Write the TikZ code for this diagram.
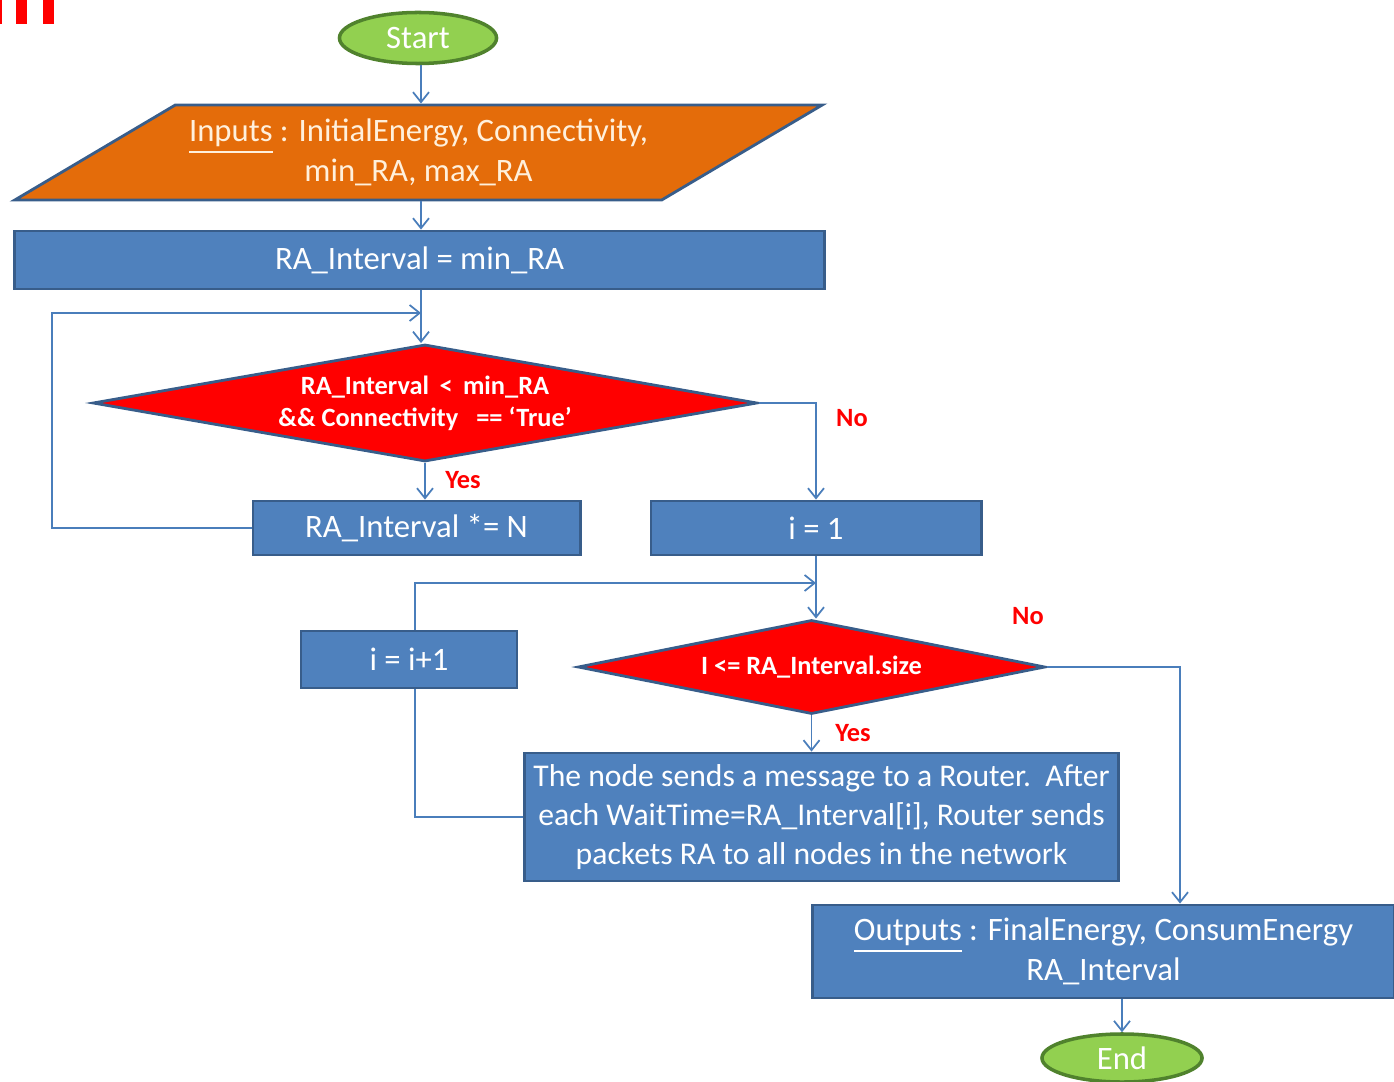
\documentclass[tikz,border=0pt]{standalone}
\usepackage{fontspec}
\setmainfont{Carlito}
\usepackage{xcolor}
\usetikzlibrary{arrows.meta, shapes.geometric, backgrounds}
\definecolor{boxblue}{RGB}{79,129,189}
\definecolor{edgeblue}{RGB}{56,93,138}
\definecolor{lineblue}{RGB}{74,126,187}
\definecolor{inorange}{RGB}{228,108,10}
\definecolor{startgreen}{RGB}{146,208,80}
\definecolor{rimgreen}{RGB}{80,130,45}
\definecolor{incream}{RGB}{255,240,220}

\begin{document}
\begin{tikzpicture}[x=0.01cm,y=-0.01cm,
    procbox/.style={draw=edgeblue,line width=0.8pt,fill=boxblue,text=white,inner sep=0pt,font=\fontsize{9.3}{11.4}\selectfont},
    decision/.style={diamond,draw=edgeblue,line width=0.8pt,fill=red,text=white,inner sep=0pt,align=center,font=\fontsize{7.5}{9}\selectfont\bfseries},
    terminal/.style={ellipse,draw=rimgreen,line width=1pt,fill=startgreen,text=white,inner sep=0pt,font=\fontsize{9.3}{11}\selectfont},
    flow/.style={draw=lineblue,line width=0.5pt,-{Straight Barb[length=1mm,width=1.6mm]}},
    answer/.style={text=red,font=\fontsize{7.5}{9}\selectfont\bfseries}]
\useasboundingbox (0,0) rectangle (1394,1082);
% === corner marks ===
\fill[red] (0,0) rectangle (2,24);
\fill[red] (16,0) rectangle (27,24);
\fill[red] (43,0) rectangle (54,24);
% === upper part ===
\node[terminal,minimum width=1.57cm,minimum height=0.51cm] (start) at (418,38) {Start};
\node[trapezium,trapezium left angle=30.4,trapezium right angle=149.6,trapezium stretches body,
      draw=edgeblue,line width=0.8pt,fill=inorange,text=incream,inner xsep=0pt,inner ysep=0.135cm,align=center,
      minimum width=8.07cm,minimum height=0.95cm,font=\fontsize{9.3}{11.4}\selectfont] (inputs) at (418.5,152.5)
      {\underline{Inputs} : InitialEnergy, Connectivity,\\min\_RA, max\_RA};
\node[procbox,minimum width=8.09cm,minimum height=0.58cm] (init) at (419.5,260) {RA\_Interval = min\_RA};
\node[decision,aspect=5.7,minimum width=6.64cm,minimum height=1.17cm] (cond) at (425,403)
      {RA\_Interval \,<\, min\_RA\\\&\& Connectivity \ \ == `True'};
\node[procbox,minimum width=3.27cm,minimum height=0.54cm] (scale) at (416.5,528) {RA\_Interval *= N};
\node[procbox,minimum width=3.30cm,minimum height=0.54cm] (first) at (816,528) {i = 1};
% === lower part ===
\node[procbox,minimum width=2.16cm,minimum height=0.57cm] (next) at (409,659.5) {i = i+1};
\node[decision,aspect=5,minimum width=4.67cm,minimum height=0.94cm] (test) at (811.5,667) {I <= RA\_Interval.size};
\node[procbox,minimum width=5.93cm,minimum height=1.28cm,align=center,font=\fontsize{9}{11.2}\selectfont] (send) at (821.5,817)
      {The node sends a message to a Router.\ \ After\\each WaitTime=RA\_Interval[i], Router sends\\packets RA to all nodes in the network};
\node[procbox,minimum width=5.81cm,minimum height=0.93cm,align=center] (result) at (1103.5,951.5)
      {\underline{Outputs} : FinalEnergy, ConsumEnergy\\RA\_Interval};
\node[terminal,minimum width=1.60cm,minimum height=0.48cm] (stop) at (1122,1058) {End};
% === labels ===
\node[answer] (yes1) at (463,480) {Yes};
\node[answer] (no1) at (852,418) {No};
\node[answer] (yes2) at (853,733) {Yes};
\node[answer] (no2) at (1028,616) {No};
% === connectors ===
\coordinate (spine) at (421,0);
\coordinate (loopL) at (52,313);
\coordinate (join1) at (421,313);
\coordinate (loopB) at (415,583);
\coordinate (join2) at (816,583);
\coordinate (noR) at (1180,667);
\draw[flow] (start.south -| spine) -- (inputs.north -| spine);
\draw[flow] (inputs.south -| spine) -- (init.north -| spine);
\draw[flow] (init.south -| spine) -- (cond.north -| spine);
\draw[flow] (scale.west) -| (loopL) -- (join1);
\draw[flow] (cond.south) -- (scale.north -| cond.south);
\draw[flow] (cond.east) -| (first.north);
\draw[flow] (first.south) -- (first.south |- test.north);
\begin{scope}[on background layer]
    \draw[flow] (send.west) -| (loopB) -- (join2);
\end{scope}
\draw[flow] (test.south) -- (test.south |- send.north);
\draw[flow] (test.east) -- (noR) -- (noR |- result.north);
\draw[flow] (result.south -| stop.north) -- (stop.north);
\end{tikzpicture}
\end{document}
